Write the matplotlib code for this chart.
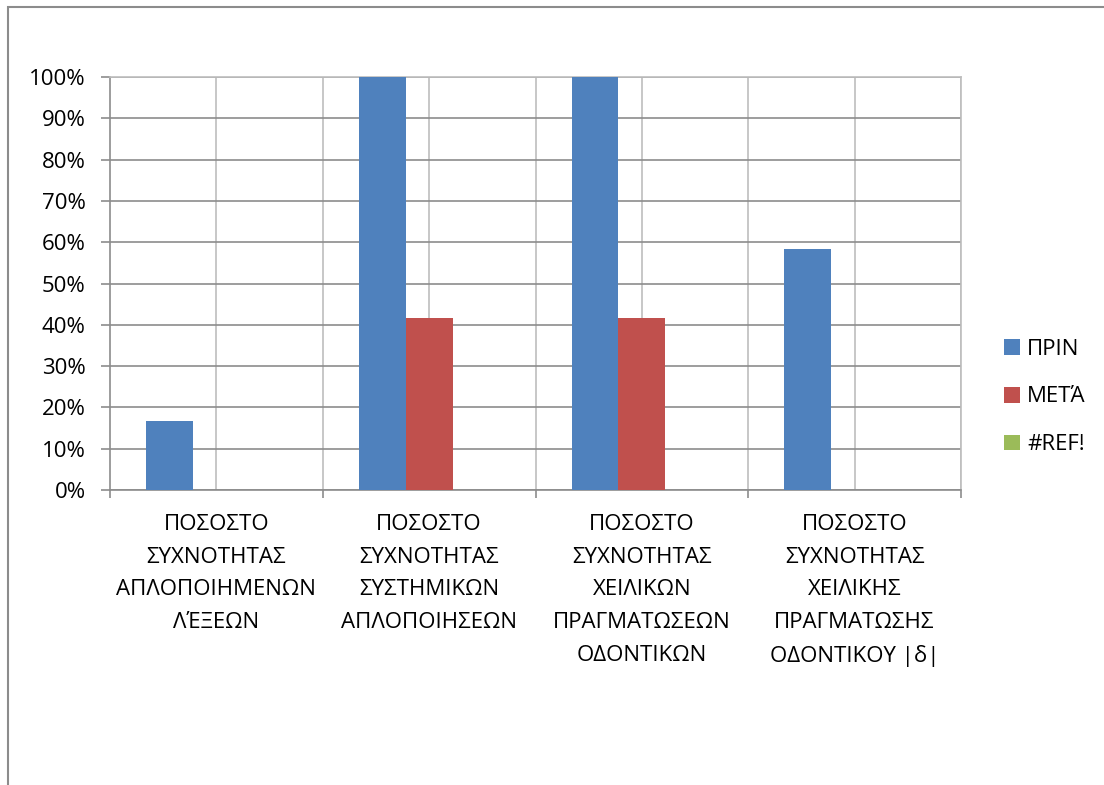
import matplotlib.pyplot as plt
import matplotlib.patches as patches
import numpy as np

categories = [
    "ΠΟΣΟΣΤΟ\nΣΥΧΝΟΤΗΤΑΣ\nΑΠΛΟΠΟΙΗΜΕΝΩΝ\nΛΈΞΕΩΝ",
    "ΠΟΣΟΣΤΟ\nΣΥΧΝΟΤΗΤΑΣ\nΣΥΣΤΗΜΙΚΩΝ\nΑΠΛΟΠΟΙΗΣΕΩΝ",
    "ΠΟΣΟΣΤΟ\nΣΥΧΝΟΤΗΤΑΣ\nΧΕΙΛΙΚΩΝ\nΠΡΑΓΜΑΤΩΣΕΩΝ\nΟΔΟΝΤΙΚΩΝ",
    "ΠΟΣΟΣΤΟ\nΣΥΧΝΟΤΗΤΑΣ\nΧΕΙΛΙΚΗΣ\nΠΡΑΓΜΑΤΩΣΗΣ\nΟΔΟΝΤΙΚΟΥ |δ|",
]
series_names = ["ΠΡΙΝ", "ΜΕΤΆ", "#REF!"]
prin = [0.167, 1.0, 1.0, 0.583]
meta = [0.0, 0.417, 0.417, 0.0]
ref = [0.0, 0.0, 0.0, 0.0]
colors = ["#4F81BD", "#C0504D", "#9BBB59"]

plt.rcParams['font.family'] = ['Open Sans', 'DejaVu Sans']
FS = 16

W, H = 1104, 785
fig = plt.figure(figsize=(W / 100, H / 100), dpi=100)
ax = fig.add_axes([110 / W, 1 - 490 / H, (961 - 110) / W, (490 - 77) / H])

x = np.arange(len(categories))
bw = 0.22
for i, (vals, name, c) in enumerate(zip([prin, meta, ref], series_names, colors)):
    ax.bar(x + (i - 1) * bw, vals, bw, color=c, label=name, zorder=3)

ax.set_xlim(-0.5, len(categories) - 0.5)
ax.set_ylim(0, 1)
yt = np.linspace(0, 1, 11)
ax.set_yticks(yt)
ax.set_yticklabels([f"{int(round(v * 100))}%" for v in yt], fontsize=FS)
ax.yaxis.grid(True, color="#8C8C8C", lw=1.2, zorder=0)
ax.tick_params(axis="y", length=6.5, color="#8C8C8C", width=1.2, pad=11)

# vertical gridlines every half category
for gx in np.arange(0, len(categories), 0.5):
    ax.axvline(gx, color="#BEBEBE", lw=1.2, zorder=0)

ax.set_xticks(np.arange(-0.5, len(categories), 1.0))
ax.set_xticklabels([])
ax.tick_params(axis="x", length=5.5, color="#8C8C8C", width=1.2)
for i, lab in enumerate(categories):
    ax.text(i, -0.058, lab, ha="center", va="top", fontsize=FS,
            linespacing=1.73, transform=ax.get_xaxis_transform())

for s in ["top", "right"]:
    ax.spines[s].set_color("#BEBEBE")
    ax.spines[s].set_linewidth(1.2)
for s in ["left", "bottom"]:
    ax.spines[s].set_color("#8C8C8C")
    ax.spines[s].set_linewidth(1.2)

leg = fig.legend(loc="center left", bbox_to_anchor=(984 / W, 1 - 397 / H),
                 frameon=False, fontsize=FS, handlelength=0.7, handleheight=0.7,
                 handletextpad=0.35, labelspacing=1.2)

# outer chart border (runs off the right and bottom edges)
fig.add_artist(patches.Rectangle((8 / W, -0.1), 1.2, 1 - 7 / H + 0.1,
                                 transform=fig.transFigure, fill=False,
                                 edgecolor="#8C8C8C", lw=1.5))

plt.savefig("out.png", dpi=100)
